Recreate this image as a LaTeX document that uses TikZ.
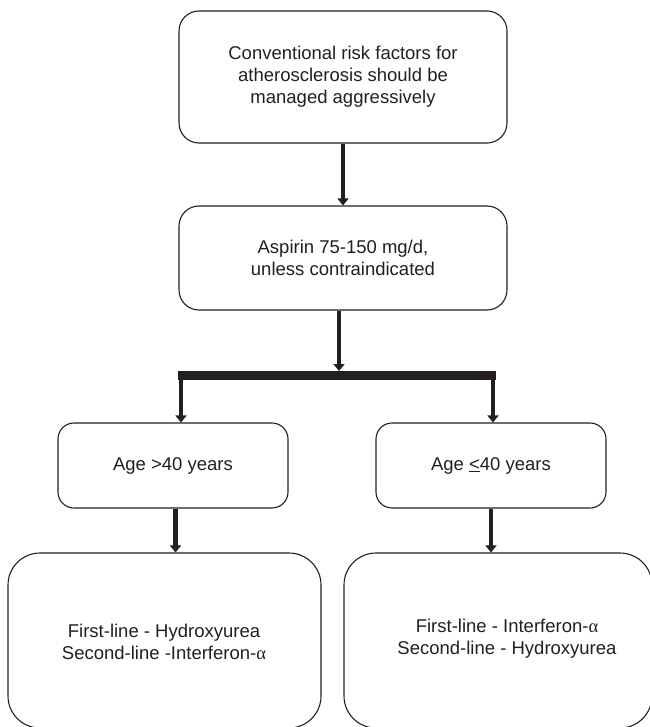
\documentclass[tikz,border=0pt]{standalone}
\usepackage{fontspec}
\setmainfont{Liberation Sans}
\newfontfamily\grk{Liberation Serif}
\usetikzlibrary{arrows.meta}
\definecolor{ink}{HTML}{231F20}
\begin{document}
\begin{tikzpicture}[x=1pt,y=-1pt,
  box/.style={draw=ink,line width=1.1pt,rounded corners=20pt,inner sep=0pt,
    align=center,text=ink,font=\fontsize{18.5}{22}\selectfont},
  agebox/.style={box,rounded corners=16pt,minimum width=230pt,minimum height=85pt},
  bigbox/.style={box,rounded corners=32pt,minimum width=310pt,minimum height=175pt},
  txt/.style={align=center,text=ink,inner sep=0pt,font=\fontsize{18.5}{22}\selectfont},
  arr/.style={draw=ink,line width=4.6pt,-{Triangle[width=11pt,length=7pt]}},
  barline/.style={draw=ink,line width=9pt,line cap=butt}]
\useasboundingbox (0,0) rectangle (649,727);

\node[box,minimum width=328pt,minimum height=132pt] (b1) at (343,77)
  {Conventional risk factors for\\atherosclerosis should be\\managed aggressively};
\node[box,minimum width=328pt,minimum height=104pt] (b2) at (343,258)
  {Aspirin 75-150 mg/d,\\unless contraindicated};

\node[agebox] (a1) at (173,465.5) {Age >40 years};
\node[agebox] (a2) at (491,465.5) {Age \underline{<}40 years};

\node[bigbox,minimum width=313pt] (c1) at (164.5,640.5) {};
\node[txt] (c1t) at (164,642) {First-line - Hydroxyurea\\Second-line -Interferon-{\grk α}};
\node[bigbox,minimum width=308pt] (c2) at (498,640.5) {};
\node[txt] (c2t) at (507,639) {First-line - Interferon-{\grk α}\\Second-line - Hydroxyurea};

\coordinate (barL) at (181,375.5);
\coordinate (barR) at (493,375.5);
\coordinate (barTop) at (339,371);

\draw[arr] (b1) -- (b2);
\draw[arr] (b2.south -| barTop) -- (barTop);
\draw[barline] ([xshift=-3pt]barL) -- ([xshift=2.5pt]barR);
\draw[arr] (barL) -- (barL |- a1.north);
\draw[arr] (barR) -- (barR |- a2.north);
\draw[arr] ([xshift=2.5pt]a1.south) -- ([xshift=2.5pt]a1.south |- c1.north);
\draw[arr] (a2.south) -- (a2.south |- c2.north);
\end{tikzpicture}
\end{document}
